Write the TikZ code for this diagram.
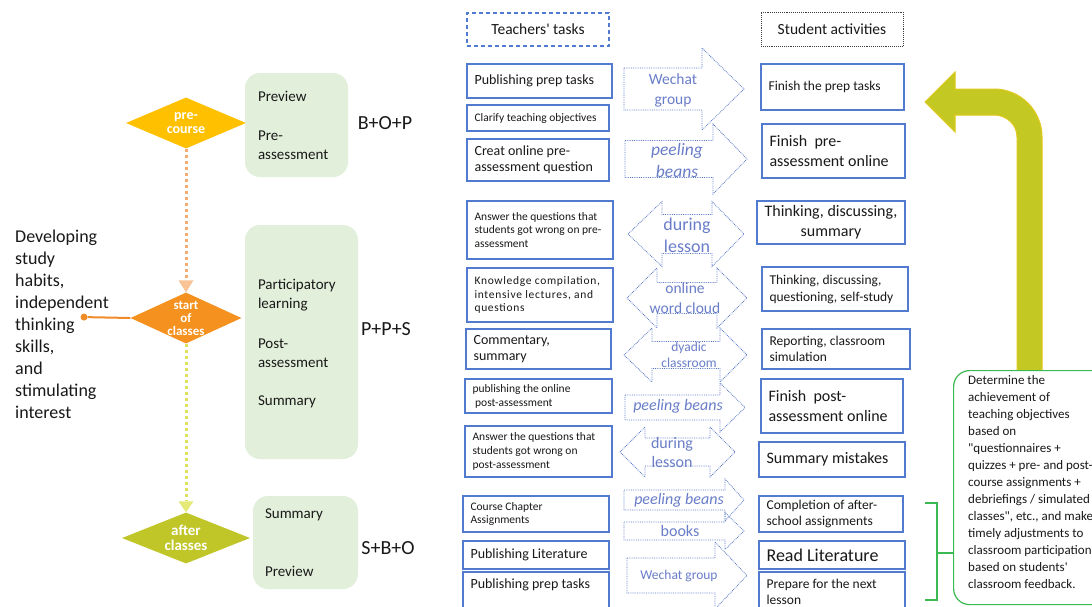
\documentclass[tikz,border=0pt]{standalone}
\usepackage{fontspec}
\setmainfont{Carlito}[Ligatures=TeXOff]
\usetikzlibrary{shapes.geometric,arrows.meta}
\definecolor{preC}{RGB}{255,192,0}
\definecolor{startC}{RGB}{245,145,30}
\definecolor{afterC}{RGB}{192,197,40}
\definecolor{gfill}{RGB}{226,239,218}
\definecolor{orangeL}{RGB}{244,172,115}
\definecolor{orangeLL}{RGB}{249,195,150}
\definecolor{ygL}{RGB}{220,226,95}
\definecolor{ygLL}{RGB}{228,233,120}
\definecolor{orangeD}{RGB}{240,140,40}
\definecolor{boxblue}{RGB}{82,122,206}
\definecolor{arrblue}{RGB}{90,120,200}
\definecolor{atxt}{RGB}{105,125,200}
\definecolor{grn}{RGB}{60,185,80}
\definecolor{olv}{RGB}{196,200,34}
\definecolor{olvD}{RGB}{225,200,30}
\newcommand{\fs}[2]{\fontsize{#1}{#2}\selectfont}
\tikzset{
 tbox/.style={draw=boxblue,line width=1.3pt,inner sep=0pt},
 hbox/.style={draw=boxblue,line width=1.1pt,dash pattern=on 4pt off 3pt,inner sep=0pt},
 sbox/.style={draw=black!75,line width=0.9pt,densely dotted,inner sep=0pt},
 tlab/.style={inner sep=0pt,align=left,text=black!90},
 gbox/.style={fill=gfill,rounded corners=15pt,inner sep=0pt},
 dia/.style={diamond,inner sep=0pt,aspect=2.3},
 dlab/.style={inner sep=0pt,align=center,text=white,font=\bfseries\fs{14}{14}},
 barr/.style={draw=arrblue,line width=0.8pt,densely dotted},
 atext/.style={inner sep=0pt,align=center,text=atxt},
 ptext/.style={inner sep=0pt,font=\fs{20}{22},text=black!90},
 dot1/.style={draw=orangeL,line width=3pt,dash pattern=on 3pt off 3pt,-{Triangle[width=15pt,length=12pt,line width=0pt,color=orangeLL]}},
 dot2/.style={draw=ygL,line width=3pt,dash pattern=on 3pt off 3pt,-{Triangle[width=15pt,length=11pt,line width=0pt,color=ygLL]}},
 oline/.style={draw=orangeD,line width=2pt,{Circle[length=7pt,line width=0pt]}-},
 ebox/.style={draw=grn,line width=1.2pt,rounded corners=16pt,fill=white,inner sep=0pt},
 gline/.style={draw=grn,line width=1.2pt}
}
% left-aligned box: name, style, x1,y1,x2,y2, font, text
\newcommand{\tbl}[8]{%
 \node[#2,minimum width={#5-#3},minimum height={#6-#4}] (#1) at ({(#3+#5)/2},{(#4+#6)/2}) {};
 \node[tlab,anchor=west,font=#7] (#1t) at ([xshift=8pt]#1.west) {#8};}
\newcommand{\tbc}[8]{%
 \node[#2,minimum width={#5-#3},minimum height={#6-#4}] (#1) at ({(#3+#5)/2},{(#4+#6)/2}) {};
 \node[tlab,align=center,font=#7] (#1t) at (#1.center) {#8};}
% right block arrow: x1, xbase, xtip, yc, body half, head half
\newcommand{\RA}[6]{%
 \draw[barr] ({#1},{#4-#5}) -- ({#2},{#4-#5}) -- ({#2},{#4-#6}) -- ({#3},{#4}) -- ({#2},{#4+#6}) -- ({#2},{#4+#5}) -- ({#1},{#4+#5}) -- cycle;}
% double block arrow: xl tip, xl base, xr base, xr tip, yc, body half, head half
\newcommand{\DA}[7]{%
 \draw[barr] ({#1},{#5}) -- ({#2},{#5-#7}) -- ({#2},{#5-#6}) -- ({#3},{#5-#6}) -- ({#3},{#5-#7}) -- ({#4},{#5}) -- ({#3},{#5+#7}) -- ({#3},{#5+#6}) -- ({#2},{#5+#6}) -- ({#2},{#5+#7}) -- cycle;}
\begin{document}
\begin{tikzpicture}[x=1pt,y=-1pt]
\useasboundingbox[fill=white] (0,0) rectangle (1092,606);
% ---------------- left part
\node[dia,fill=preC,minimum width=120pt,minimum height=51pt] (pre) at (186,123) {};
\node[dlab] (prel) at (pre.center) {pre-\\course};
\node[dia,fill=startC,minimum width=111pt,minimum height=51pt] (start) at (186,318) {};
\node[dlab,font=\bfseries\fs{13}{13}] (startl) at (start.center) {start\\of\\classes};
\node[dia,fill=afterC,minimum width=128pt,minimum height=51pt] (after) at (186,538) {};
\node[dlab,font=\bfseries\fs{15}{15}] (afterl) at (after.center) {after\\classes};
\draw[dot1] (pre.south) -- (start.north);
\draw[dot2] (start.south) -- (after.north);

\node[gbox,minimum width=103pt,minimum height=104pt] (g1) at (296.5,125) {};
\node[tlab,anchor=west,font=\fs{15}{19}] (g1t) at ([xshift=13pt]g1.west) {Preview\\[20pt]Pre-\\assessment};
\node[gbox,minimum width=113pt,minimum height=234pt] (g2) at (301.5,342) {};
\node[tlab,anchor=west,font=\fs{15}{19}] (g2t) at ([xshift=13pt,yshift=-2pt]g2.west) {Participatory\\learning\\[21pt]Post-\\assessment\\[19pt]Summary};
\node[gbox,minimum width=105pt,minimum height=93pt] (g3) at (305.5,542.5) {};
\node[tlab,anchor=west,font=\fs{15}{19}] (g3t) at ([xshift=12pt]g3.west) {Summary\\[39pt]Preview};

\node[ptext] (bop) at (385,123) {B+O+P};
\node[ptext] (pps) at (386,329) {P+P+S};
\node[ptext] (sbo) at (388,548) {S+B+O};

\node[tlab,anchor=west,font=\fs{18}{22}] (dev) at (15,324) {Developing\\study\\habits,\\independent\\thinking\\skills,\\and\\stimulating\\interest};
\coordinate (devc) at (80.5,317);
\draw[oline] (devc) -- (start.west);

% ---------------- teachers' tasks
\tbc{t0}{hbox}{467}{13}{609}{46}{\fs{15.5}{18}}{Teachers' tasks}
\tbl{t1}{tbox}{467}{64}{612}{98}{\fs{14}{16}}{Publishing prep tasks}
\tbl{t2}{tbox}{467}{105}{609}{131}{\fs{11.5}{13}}{Clarify teaching objectives}
\tbl{t3}{tbox}{467}{139}{609}{181}{\fs{14}{16}}{Creat online pre-\\assessment question}
\tbl{t4}{tbox}{467}{201}{613}{259}{\fs{11.5}{13.5}}{Answer the questions that\\students got wrong on pre-\\assessment}
\tbl{t5}{tbox}{467}{268}{613}{322}{\fs{11.5}{13.5}\addfontfeatures{LetterSpace=6}}{Knowledge compilation,\\intensive lectures, and\\questions}
\tbl{t6}{tbox}{466}{329}{611}{369}{\fs{14}{16}}{Commentary,\\summary}
\tbl{t7}{tbox}{465}{379}{612}{413}{\fs{11.5}{14}}{publishing the online\\ \ post-assessment}
\tbl{t8}{tbox}{465}{426}{612}{477}{\fs{11.5}{14}}{Answer the questions that\\students got wrong on\\post-assessment}
\tbl{t9}{tbox}{463}{496}{609}{532}{\fs{11.5}{13.5}}{Course Chapter\\Assignments}
\tbl{t10}{tbox}{463}{541}{609}{569}{\fs{14}{16}}{Publishing Literature}
\tbl{t11}{tbox}{463}{572}{609}{612}{\fs{14}{16}}{Publishing prep tasks\\~}

% ---------------- student activities
\tbc{s0}{sbox}{761}{12}{903}{46}{\fs{15.5}{18}}{Student activities}
\tbl{s1}{tbox}{761}{64}{904}{110}{\fs{13.5}{16}}{Finish the prep tasks}
\tbl{s2}{tbox}{762}{124}{905}{178}{\fs{16}{20}}{Finish\ \ pre-\\assessment online}
\tbc{s3}{tbox}{757}{201}{905}{244}{\fs{16}{20}}{Thinking, discussing,\\summary}
\tbl{s4}{tbox}{762}{267}{908}{311}{\fs{13.5}{17}}{Thinking, discussing,\\questioning, self-study}
\tbl{s5}{tbox}{762}{329}{910}{369}{\fs{13.5}{16}}{Reporting, classroom\\simulation}
\tbl{s6}{tbox}{761}{379}{903}{433}{\fs{16}{20}}{Finish\ \ post-\\assessment online}
\tbl{s7}{tbox}{759}{442}{905}{477}{\fs{16}{18}}{Summary mistakes}
\tbl{s8}{tbox}{759}{496}{903}{532}{\fs{13.5}{16}}{Completion of after-\\school assignments}
\tbl{s9}{tbox}{759}{541}{905}{569}{\fs{18}{20}}{Read Literature}
\tbl{s10}{tbox}{759}{572}{905}{612}{\fs{13.5}{16}}{Prepare for the next\\lesson}

% ---------------- block arrows
\RA{624}{702}{744}{89}{21}{41}
\node[atext,font=\fs{15.5}{20}] (a1t) at (673,90) {Wechat\\group};
\RA{625}{713}{747}{159}{18.5}{35}
\node[atext,font=\itshape\fs{17.5}{22}] (a2t) at (677,160) {peeling\\beans};
\DA{628}{662}{712}{744}{234}{19.5}{32.5}
\node[atext,font=\fs{18}{22}] (a3t) at (687,235) {during\\lesson};
\DA{627}{657}{717}{747}{298}{15.5}{30}
\node[atext,font=\fs{15.5}{20}] (a4t) at (685,298) {online\\word cloud};
\DA{624}{652}{720}{747}{355}{13.5}{27}
\node[atext,font=\fs{13.5}{16}] (a5t) at (689,355) {dyadic\\classroom};
\RA{625}{720}{745}{407.5}{12.5}{24.5}
\node[atext,font=\itshape\fs{16}{18}] (a6t) at (678,406) {peeling beans};
\DA{620}{645}{710}{735}{452}{14}{25}
\node[atext,font=\fs{16}{19}] (a7t) at (672,452.5) {during\\lesson};
\RA{624}{725}{744}{500}{10}{21}
\node[atext,font=\itshape\fs{16}{18}] (a8t) at (679,500) {peeling beans};
\RA{624}{725}{744}{531}{9}{18.5}
\node[atext,font=\fs{16}{18}] (a9t) at (680,531) {books};
\RA{627}{715}{747}{575.5}{17.5}{33.5}
\node[atext,font=\fs{13.5}{16}] (a10t) at (679,576) {Wechat group};

% ---------------- feedback arrow and box
\filldraw[fill=olv,draw=olvD,line width=1pt] (925,102) -- (955,72) -- (955,89) -- (994,89) .. controls (1020.5,89) and (1042,110.5) .. (1042,137) -- (1042,372) -- (1017,372) -- (1017,137) .. controls (1017,124.5) and (1006.5,115) .. (994,115) -- (955,115) -- (955,132) -- cycle;
\node[ebox,minimum width=160pt,minimum height=234pt,anchor=north west] (eval) at (953,370) {};
\node[tlab,anchor=north west,font=\fs{13}{17}] (evalt) at (968,375) {Determine the\\achievement of\\teaching objectives\\based on\\"questionnaires +\\quizzes + pre- and post-\\course assignments +\\debriefings / simulated\\classes", etc., and make\\timely adjustments to\\classroom participation\\based on students'\\classroom feedback.};
\coordinate (brk) at (953,553);
\draw[gline] (925,503) -- (937,503) -- (937,600) -- (925,600);
\draw[gline] (937,553) -- (brk);
\end{tikzpicture}
\end{document}
